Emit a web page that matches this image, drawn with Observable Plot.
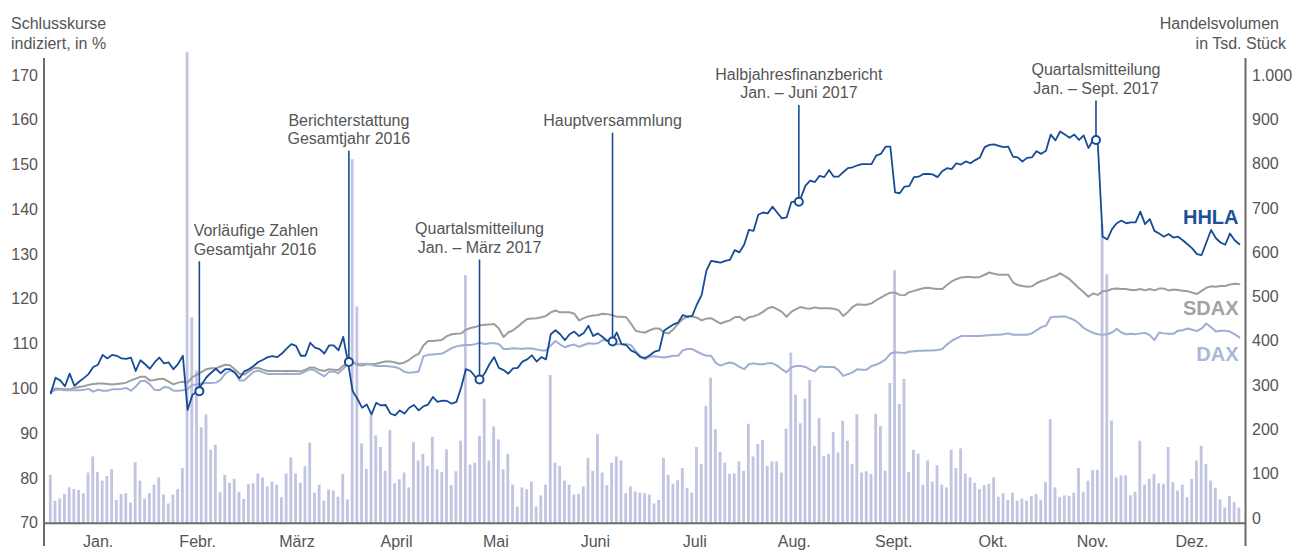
<!DOCTYPE html>
<html><head><meta charset="utf-8">
<script src="https://cdn.jsdelivr.net/npm/d3@7"></script>
<script src="https://cdn.jsdelivr.net/npm/@observablehq/plot@0.6"></script>
<style>
body{margin:0;background:#fff;}
#chart{width:1301px;height:560px;}
</style></head><body><div id="chart"></div>
<script>
const months = ["Jan.","Febr.","März","April","Mai","Juni","Juli","Aug.","Sept.","Okt.","Nov.","Dez."];

// Handelsvolumen in Tsd. Stück, one value per trading day
const volume = [
107,49,54,64,79,75,73,66,112,148,113,94,104,120,51,64,66,45,135,94,54,66,85,101,63,43,63,75,122,
1052,459,340,213,242,163,174,68,107,89,98,69,53,86,88,110,101,81,92,85,57,110,146,110,89,126,179,67,85,49,74,72,58,109,
52,812,483,177,120,242,195,169,116,207,88,97,112,79,180,139,154,127,192,119,113,164,84,115,183,553,130,134,194,277,139,215,186,119,154,85,36,79,75,92,36,61,85,330,134,127,94,85,63,64,81,145,116,198,112,84,134,148,139,66,81,70,
67,66,63,43,51,145,107,87,95,122,78,67,169,131,261,324,209,158,134,109,110,137,116,221,148,176,185,127,137,137,112,210,380,286,222,277,319,172,234,149,154,203,157,228,183,131,242,112,115,109,243,216,116,312,564,265,321,113,163,154,85,139,92,
128,85,79,163,122,166,110,101,89,75,84,87,101,58,66,51,67,49,54,49,60,64,51,91,231,79,57,61,60,67,122,69,94,118,118,668,555,228,101,106,106,61,69,183,85,98,109,88,87,169,91,72,85,57,98,139,172,131,94,78,52,34,60,46,34
];

// Schlusskurse indiziert, in %
const hhla = [
99.0,102.5,101.9,100.6,103.4,100.7,101.6,102.4,103.3,104.9,105.4,107.6,106.8,107.6,107.4,106.8,106.7,107.0,104.0,106.4,105.5,104.5,105.9,107.0,105.7,105.9,104.4,105.6,107.4,95.3,98.6,
99.4,101.0,102.6,103.6,104.5,103.5,104.4,104.4,103.6,102.4,103.9,104.4,105.1,106.0,106.5,107.1,107.3,107.1,107.9,109.0,110.0,109.6,107.4,107.4,110.3,109.2,108.9,107.9,109.7,109.7,108.6,111.6,
106.0,99.5,97.8,95.8,96.5,94.3,96.9,96.3,96.4,94.5,94.1,95.2,94.5,95.8,96.4,95.2,96.1,96.5,98.2,97.1,97.4,97.3,96.7,97.1,100.3,104.4,104.0,102.7,102.1,103.5,105.5,107.1,104.7,104.2,103.4,104.6,104.7,106.1,106.6,107.5,106.1,107.1,106.6,112.2,113.1,112.2,110.9,112.2,112.8,111.8,112.5,114.1,111.8,112.4,111.6,110.7,110.7,112.6,110.0,109.8,108.6,108.1,107.1,
106.9,107.5,108.3,108.6,113.0,113.7,114.4,114.8,116.5,116.1,116.3,118.9,121.0,126.4,128.6,128.4,128.2,128.6,128.8,131.0,130.5,132.2,135.5,135.3,138.9,139.4,139.2,140.7,139.4,138.1,138.3,141.7,141.9,142.6,145.4,146.5,146.2,147.6,147.3,148.9,147.4,147.4,148.4,149.3,149.5,149.9,150.2,150.2,150.2,152.1,152.5,154.1,154.1,143.9,143.7,145.2,145.3,147.3,147.4,148.0,148.0,147.9,
147.3,148.6,149.3,149.1,150.4,150.1,150.8,150.4,151.1,151.7,154.0,154.5,154.6,154.3,154.0,154.1,151.9,151.7,150.8,151.6,151.7,153.1,152.5,153.2,156.8,155.5,157.5,156.8,156.1,156.8,155.6,156.6,153.8,155.6,154.6,134.0,133.4,135.7,137.0,137.6,137.0,137.2,137.2,139.6,136.8,137.9,135.3,134.7,134.0,134.6,133.8,134.0,133.2,132.3,131.4,130.1,129.9,132.7,135.5,133.7,132.7,132.2,134.7,133.2,132.3
];

const sdax = [
99.4,100.1,100.0,99.9,99.9,100.2,100.4,100.6,100.9,101.1,
101.2,101.2,101.1,101.0,101.1,101.2,101.4,101.9,102.3,102.7,
102.7,101.9,102.0,102.2,102.2,101.6,101.0,101.4,101.6,101.4,
102.6,103.2,103.8,104.4,104.6,104.6,105.0,105.4,105.3,104.4,
103.4,103.2,103.9,104.6,104.7,104.3,104.0,104.0,104.0,104.0,
104.0,104.0,104.0,103.9,104.3,104.8,104.7,104.2,104.0,104.4,
104.3,104.2,105.2,
105.6,105.9,105.4,105.2,105.5,105.5,105.6,
105.9,106.1,106.1,105.9,105.6,105.9,106.5,107.3,107.8,109.7,
110.7,110.7,110.8,111.0,111.8,112.2,112.3,112.4,113.2,113.6,
113.8,114.2,114.3,114.4,114.5,113.5,111.6,112.6,113.1,113.9,
114.8,115.6,115.7,115.8,116.0,116.3,117.1,117.5,117.1,117.1,
117.1,116.8,115.3,115.8,116.2,116.4,116.5,116.8,116.7,116.5,
116.1,116.1,116.0,114.6,113.0,112.7,
112.6,113.1,113.5,113.5,
112.6,112.4,113.3,114.6,115.6,116.2,116.2,115.9,115.3,115.7,
115.8,115.2,114.6,115.0,115.3,116.0,116.1,115.3,116.0,116.2,
116.6,117.2,118.0,118.3,117.8,117.2,116.1,117.2,117.8,118.3,
118.0,117.9,118.2,118.0,118.0,118.0,117.9,117.6,116.3,117.2,
118.3,118.9,118.8,118.8,119.1,119.8,120.4,121.0,121.5,121.5,
121.0,120.9,121.6,121.9,122.2,122.5,122.6,122.4,
122.3,122.3,
123.2,124.0,124.5,124.9,125.0,125.0,124.9,125.0,125.5,126.0,
125.7,125.5,125.5,125.5,123.8,123.2,123.0,122.8,122.9,123.6,
124.1,124.4,124.9,125.2,125.8,125.2,124.5,123.5,122.5,121.6,
120.6,121.3,121.0,121.8,121.9,122.3,122.4,122.3,122.3,122.1,
122.1,122.3,122.0,122.3,122.0,122.4,122.4,122.0,122.2,122.1,
121.9,121.8,121.5,121.2,121.9,122.6,122.9,122.8,123.0,123.0,
123.3,123.5,123.4
];

const dax = [
99.2,99.8,99.8,99.7,99.7,99.7,99.7,99.8,100.0,99.4,
99.8,99.6,99.6,99.9,99.9,100.0,100.2,99.6,100.5,101.7,
101.8,101.0,99.8,99.7,100.4,100.3,99.6,99.6,99.7,99.9,
100.9,101.0,101.2,101.3,101.3,101.4,102.0,103.4,104.1,103.9,
101.9,101.9,102.9,103.8,104.1,103.7,103.3,103.3,103.3,103.3,
103.4,103.3,103.3,103.4,103.9,104.4,104.1,103.4,102.8,103.8,
103.9,103.5,104.5,
105.6,105.9,105.7,105.6,105.6,105.4,105.1,
105.1,105.1,105.0,104.9,104.5,103.8,103.6,103.7,103.9,107.3,
107.6,107.7,107.8,107.9,108.5,109.1,109.5,109.7,109.8,109.8,
110.0,110.3,110.0,110.2,110.2,110.0,108.9,108.9,109.1,109.0,
108.9,109.1,109.0,108.8,108.6,108.6,109.7,110.7,109.9,109.3,
109.7,109.9,109.4,109.8,110.2,110.1,110.2,110.9,110.8,110.3,
109.9,110.0,110.0,109.8,108.5,107.3,
106.6,107.2,107.3,107.1,
107.0,107.2,107.4,107.4,108.6,108.9,108.9,108.3,107.8,107.4,
107.4,105.8,105.2,105.6,105.9,105.6,104.9,104.4,105.5,105.7,
105.5,105.5,105.7,105.7,105.2,104.4,103.7,104.8,105.1,105.1,
104.9,104.3,103.9,105.0,104.9,104.9,104.9,104.2,102.9,103.3,
103.7,104.4,104.3,104.3,105.1,105.4,105.9,106.6,107.9,108.2,
108.1,108.0,108.3,108.4,108.5,108.5,108.6,108.6,
108.7,108.9,
109.9,110.7,111.3,111.8,111.8,111.8,111.8,111.8,111.9,112.0,
112.1,112.1,112.2,112.4,112.1,112.1,112.1,112.1,112.4,113.1,
113.8,114.1,116.0,116.1,116.1,116.2,115.8,115.4,114.6,113.6,
113.0,112.5,112.2,112.1,112.2,112.6,113.4,112.6,112.2,112.3,
112.2,112.4,112.5,112.0,110.9,112.6,112.4,112.3,112.3,113.0,
113.1,113.5,113.2,112.9,113.5,114.6,113.8,112.8,113.0,113.0,
112.8,112.2,111.5
];

const leftTicks = [70,80,90,100,110,120,130,140,150,160,170];
const rightTicks = [0,100,200,300,400,500,600,700,800,900,1000];

// Events: trading-day position, HHLA level at marker, level where leader ends, label
const eventPos = [31.5, 63.2, 90.9, 119.1, 158.6, 221.6];
const eventValue = [99.5, 106.0, 102.1, 110.6, 141.8, 155.6];
const eventTop = [128.4, 153.1, 128.8, 157.1, 163.3, 164.3];
const eventLabel = [
  "Vorläufige Zahlen\nGesamtjahr 2016",
  "Berichterstattung\nGesamtjahr 2016",
  "Quartalsmitteilung\nJan. – März 2017",
  "Hauptversammlung",
  "Halbjahresfinanzbericht\nJan. – Juni 2017",
  "Quartalsmitteilung\nJan. – Sept. 2017"
];
const eventAlign = ["start","middle","middle","middle","middle","middle"];

const seriesNames = ["HHLA","SDAX","DAX"];
const seriesLabelLevel = [138.3, 117.9, 107.7];

// ---- build
const BLUE = "#164b97", GREY = "#9d9d9d", LIGHT = "#9eaed3", BAR = "#c2c5e2", AXIS = "#6b6b6b", TXT = "#555555";
const seriesColors = ["#1d4f9a", "#a3a3a3", "#aab7da"];
const N = volume.length;
const rows = volume.map((v, i) => ({i, v, hhla: hhla[i], sdax: sdax[i], dax: dax[i]}));
const base = 70;
const xLeft = -1.44, xRight = N + 0.3;
const rightTickY = d3.scaleLinear().domain([0, 1000]).range([71.05, 170]);
const monthRows = months.map((m, k) => ({m, x: (k + 0.5) * N / 12 - 0.5}));
const events = eventPos.map((x, k) => ({x, v: eventValue[k], top: eventTop[k], label: eventLabel[k], align: eventAlign[k]}));
const seriesLabels = seriesNames.map((s, k) => ({s, y: seriesLabelLevel[k], c: seriesColors[k]}));
const fmt = d => d3.format(",")(d).replace(/,/g, ".");
const FONT = "'Liberation Sans', Arial, Helvetica, sans-serif";

const chart = Plot.plot({
  width: 1301, height: 560,
  marginLeft: 43.5, marginRight: 56, marginTop: 75, marginBottom: 37.3,
  x: {type: "linear", domain: [xLeft, xRight], axis: null},
  y: {domain: [70, 170], axis: null},
  style: {fontFamily: FONT, fontSize: "16px", color: TXT, background: "#fff", overflow: "visible"},
  marks: [
    Plot.rect(rows, {x1: d => d.i - 0.3, x2: d => d.i + 0.3, y1: base, y2: d => base + d.v / 10, fill: BAR}),
    Plot.line(rows, {x: "i", y: "sdax", stroke: GREY, strokeWidth: 2}),
    Plot.line(rows, {x: "i", y: "dax", stroke: LIGHT, strokeWidth: 2}),
    Plot.line(rows, {x: "i", y: "hhla", stroke: BLUE, strokeWidth: 1.8}),
    Plot.ruleY([base], {x1: xLeft, x2: xRight, stroke: AXIS, strokeWidth: 2}),
    Plot.ruleX([xLeft, xRight], {y1: 64.8, y2: 173.8, stroke: AXIS, strokeWidth: 2}),
    Plot.text(leftTicks, {x: xLeft, y: d => d, text: d => String(d), textAnchor: "end", dx: -6, fill: TXT, fontSize: 16}),
    Plot.text(rightTicks, {x: xRight, y: d => rightTickY(d), text: d => fmt(d), textAnchor: "start", dx: 6.5, fill: TXT, fontSize: 16}),
    Plot.text(monthRows, {x: "x", y: base, text: "m", dy: 18.5, fill: TXT, fontSize: 16}),
    Plot.ruleX(events, {x: "x", y1: "v", y2: "top", stroke: BLUE, strokeWidth: 1.6}),
    Plot.dot(events, {x: "x", y: "v", r: 4, fill: "#fff", stroke: BLUE, strokeWidth: 2}),
    Plot.text(events.filter(e => e.align === "start"), {x: "x", y: "top", text: "label", textAnchor: "start", lineAnchor: "bottom", lineHeight: 1.16, dx: -5.7, dy: -7, fill: TXT, fontSize: 16}),
    Plot.text(events.filter(e => e.align === "middle"), {x: "x", y: "top", text: "label", textAnchor: "middle", lineAnchor: "bottom", lineHeight: 1.16, dy: -7, fill: TXT, fontSize: 16}),
    Plot.text(seriesLabels, {x: xRight, y: "y", text: "s", fill: "c", textAnchor: "end", dx: -7, fontSize: 20, fontWeight: "bold"})
  ]
});

const svg = d3.select(chart);
const titles = [
  {t: "Schlusskurse", x: 11, y: 29, a: "start"},
  {t: "indiziert, in %", x: 11, y: 49, a: "start"},
  {t: "Handelsvolumen", x: 1279, y: 29, a: "end"},
  {t: "in Tsd. Stück", x: 1286, y: 49, a: "end"}
];
svg.append("g").selectAll("text").data(titles).join("text")
  .attr("x", d => d.x).attr("y", d => d.y).attr("text-anchor", d => d.a)
  .attr("fill", TXT).attr("font-size", 16).attr("font-family", FONT)
  .text(d => d.t);

document.getElementById("chart").append(chart);
</script>
</body></html>
